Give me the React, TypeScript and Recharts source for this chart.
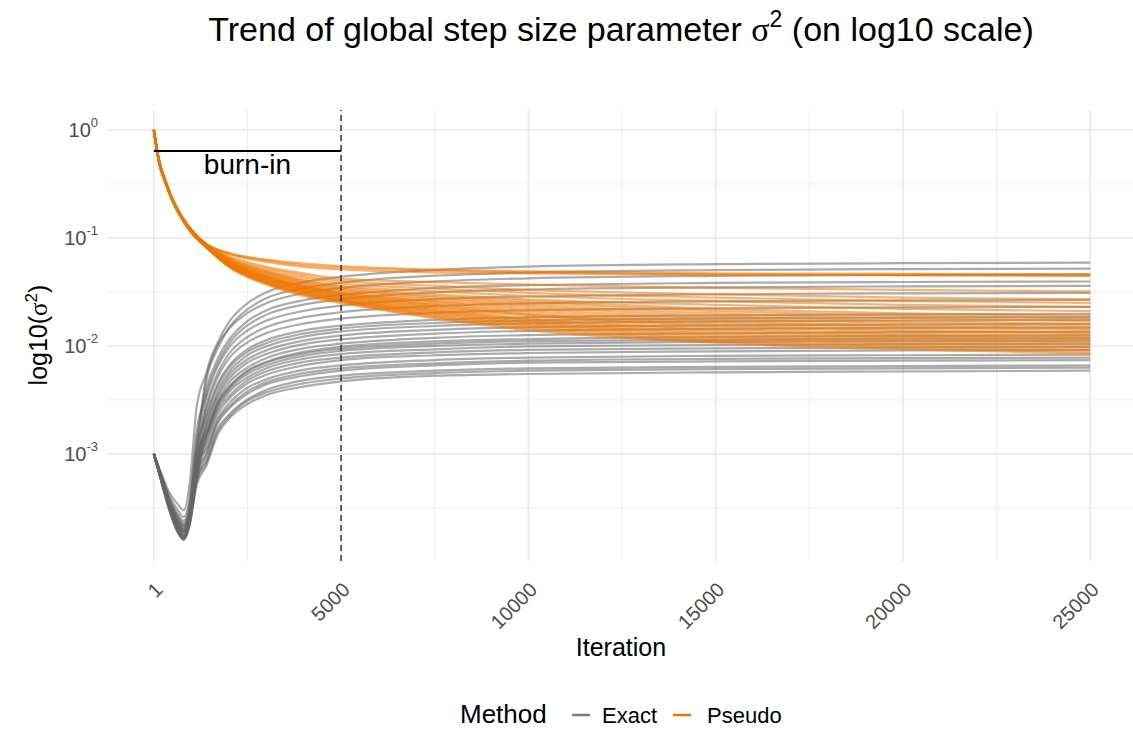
import { LineChart, Line, XAxis, YAxis, CartesianGrid, ReferenceLine } from "recharts";

const W = 1133;
const H = 729;

const ITER_EXACT = [1, 200, 400, 650, 800, 950, 1150, 1400, 1700, 2000, 2500, 3000, 4000, 5000, 7500, 10000, 15000, 20000, 25000];
const ITER_PSEUDO = [1, 150, 300, 500, 750, 1000, 1400, 2000, 3000, 4000, 5000, 7500, 10000, 15000, 20000, 25000];

const EXACT_RUNS = [
  [1e-3, 6.2e-4, 3.9e-4, 2.5e-4, 2.2e-4, 3.0e-4, 1.2e-3, 0.0053, 0.0106, 0.0165, 0.0248, 0.0313, 0.039, 0.0437, 0.0507, 0.0543, 0.0572, 0.0584, 0.059],
  [1e-3, 6.0e-4, 3.6e-4, 2.3e-4, 2.0e-4, 2.7e-4, 1.05e-3, 0.0047, 0.0094, 0.0146, 0.0218, 0.0276, 0.0343, 0.0385, 0.0447, 0.0478, 0.0504, 0.0515, 0.052],
  [1e-3, 6.6e-4, 4.5e-4, 3.4e-4, 3.0e-4, 5.0e-4, 2.8e-3, 0.0055, 0.0101, 0.0143, 0.0202, 0.0248, 0.0308, 0.0345, 0.0396, 0.0423, 0.0446, 0.0455, 0.046],
  [1e-3, 6.3e-4, 4.0e-4, 2.75e-4, 2.4e-4, 3.4e-4, 1.4e-3, 0.004, 0.0075, 0.0113, 0.017, 0.0213, 0.0265, 0.0296, 0.0344, 0.0365, 0.0383, 0.0391, 0.0395],
  [1e-3, 5.9e-4, 3.5e-4, 2.2e-4, 1.9e-4, 2.55e-4, 7.8e-4, 0.0034, 0.0068, 0.0104, 0.0155, 0.0194, 0.0241, 0.027, 0.0313, 0.0333, 0.0349, 0.0356, 0.036],
  [1e-3, 6.4e-4, 4.2e-4, 3.0e-4, 2.6e-4, 3.8e-4, 1.7e-3, 0.0034, 0.0064, 0.0096, 0.0139, 0.0171, 0.0211, 0.0236, 0.0271, 0.0287, 0.0301, 0.0307, 0.031],
  [1e-3, 5.8e-4, 3.4e-4, 2.05e-4, 1.8e-4, 2.4e-4, 7.2e-4, 0.0027, 0.0055, 0.0084, 0.0121, 0.0149, 0.0184, 0.0205, 0.0234, 0.0248, 0.0259, 0.0264, 0.0267],
  [1e-3, 6.1e-4, 3.7e-4, 2.4e-4, 2.1e-4, 2.85e-4, 1.05e-3, 0.0026, 0.0051, 0.0076, 0.0108, 0.0131, 0.0161, 0.0179, 0.0203, 0.0214, 0.0223, 0.0228, 0.023],
  [1e-3, 5.7e-4, 3.3e-4, 1.95e-4, 1.7e-4, 2.3e-4, 6.5e-4, 0.0022, 0.0044, 0.0065, 0.0093, 0.0113, 0.0139, 0.0154, 0.0174, 0.0184, 0.0192, 0.0196, 0.0198],
  [1e-3, 6.2e-4, 3.9e-4, 2.65e-4, 2.3e-4, 3.1e-4, 1.15e-3, 0.0022, 0.0042, 0.0062, 0.0088, 0.0106, 0.013, 0.0145, 0.0163, 0.0172, 0.018, 0.0183, 0.0185],
  [1e-3, 5.9e-4, 3.5e-4, 2.2e-4, 1.9e-4, 2.55e-4, 7.8e-4, 0.0019, 0.0038, 0.0057, 0.0082, 0.0099, 0.0122, 0.0136, 0.0153, 0.0162, 0.0169, 0.0172, 0.0174],
  [1e-3, 5.8e-4, 3.35e-4, 2.0e-4, 1.75e-4, 2.35e-4, 6.8e-4, 0.0018, 0.0035, 0.0053, 0.0075, 0.0091, 0.0112, 0.0125, 0.0141, 0.0149, 0.0155, 0.0158, 0.016],
  [1e-3, 6.0e-4, 3.6e-4, 2.3e-4, 2.0e-4, 2.7e-4, 9e-4, 0.0017, 0.0033, 0.0049, 0.007, 0.0084, 0.0104, 0.0115, 0.013, 0.0138, 0.0144, 0.0147, 0.0148],
  [1e-3, 5.6e-4, 3.2e-4, 1.9e-4, 1.65e-4, 2.2e-4, 6.2e-4, 0.0015, 0.003, 0.0045, 0.0063, 0.0077, 0.0095, 0.0105, 0.0119, 0.0126, 0.0131, 0.0134, 0.0135],
  [1e-3, 6.2e-4, 3.9e-4, 2.5e-4, 2.2e-4, 3.0e-4, 1.05e-3, 0.0015, 0.0028, 0.0041, 0.0059, 0.0071, 0.0088, 0.0098, 0.011, 0.0116, 0.0121, 0.0124, 0.0125],
  [1e-3, 5.8e-4, 3.4e-4, 2.05e-4, 1.8e-4, 2.4e-4, 7.2e-4, 0.0015, 0.003, 0.0041, 0.0058, 0.007, 0.0085, 0.0094, 0.0105, 0.0111, 0.0114, 0.0117, 0.0118],
  [1e-3, 6.0e-4, 3.6e-4, 2.3e-4, 2.0e-4, 2.7e-4, 9e-4, 0.0015, 0.0028, 0.0039, 0.0055, 0.0066, 0.0081, 0.009, 0.01, 0.0105, 0.0109, 0.0111, 0.0112],
  [1e-3, 5.7e-4, 3.3e-4, 1.95e-4, 1.7e-4, 2.3e-4, 6.5e-4, 0.0014, 0.0026, 0.0037, 0.0051, 0.0062, 0.0076, 0.0084, 0.0093, 0.0099, 0.0102, 0.0104, 0.0105],
  [1e-3, 5.9e-4, 3.5e-4, 2.2e-4, 1.9e-4, 2.55e-4, 7.8e-4, 0.0013, 0.0025, 0.0034, 0.0048, 0.0058, 0.0071, 0.0078, 0.0087, 0.0092, 0.0095, 0.0097, 0.0098],
  [1e-3, 5.6e-4, 3.15e-4, 1.85e-4, 1.6e-4, 2.15e-4, 6.0e-4, 0.0012, 0.0023, 0.0032, 0.0045, 0.0054, 0.0066, 0.0074, 0.0082, 0.0086, 0.0089, 0.0091, 0.0092],
  [1e-3, 6.1e-4, 3.7e-4, 2.4e-4, 2.1e-4, 2.85e-4, 8.5e-4, 0.0011, 0.0021, 0.0029, 0.0041, 0.0049, 0.006, 0.0066, 0.0074, 0.0078, 0.0081, 0.0082, 0.0083],
  [1e-3, 5.8e-4, 3.35e-4, 2.0e-4, 1.75e-4, 2.35e-4, 6.5e-4, 0.001, 0.002, 0.0027, 0.0038, 0.0046, 0.0056, 0.0062, 0.0069, 0.0073, 0.0076, 0.0077, 0.0078],
  [1e-3, 5.6e-4, 3.2e-4, 1.9e-4, 1.65e-4, 2.2e-4, 5.8e-4, 9.6e-4, 0.0019, 0.0026, 0.0036, 0.0044, 0.0053, 0.0059, 0.0066, 0.007, 0.0072, 0.0073, 0.0074],
  [1e-3, 5.9e-4, 3.5e-4, 2.2e-4, 1.9e-4, 2.55e-4, 6.0e-4, 8.6e-4, 0.0017, 0.0023, 0.0032, 0.0039, 0.0048, 0.0053, 0.0059, 0.0062, 0.0064, 0.0065, 0.0066],
  [1e-3, 5.7e-4, 3.3e-4, 1.95e-4, 1.7e-4, 2.3e-4, 5.6e-4, 8.2e-4, 0.0016, 0.0022, 0.0031, 0.0037, 0.0045, 0.005, 0.0056, 0.0059, 0.0061, 0.0062, 0.0063],
  [1e-3, 5.6e-4, 3.15e-4, 1.85e-4, 1.6e-4, 2.15e-4, 5.2e-4, 7.7e-4, 0.0015, 0.0021, 0.0029, 0.0035, 0.0042, 0.0047, 0.0053, 0.0055, 0.0057, 0.0058, 0.0059],
];

const PSEUDO_RUNS = [
  [1, 0.51, 0.35, 0.23, 0.158, 0.12, 0.088, 0.073, 0.063, 0.058, 0.055, 0.051, 0.049, 0.047, 0.0465, 0.046],
  [1, 0.51, 0.35, 0.229, 0.157, 0.119, 0.088, 0.072, 0.062, 0.056, 0.053, 0.05, 0.048, 0.046, 0.0455, 0.045],
  [1, 0.5, 0.345, 0.228, 0.157, 0.119, 0.087, 0.071, 0.06, 0.054, 0.051, 0.048, 0.047, 0.0455, 0.045, 0.0445],
  [1, 0.5, 0.345, 0.228, 0.156, 0.118, 0.087, 0.068, 0.054, 0.047, 0.042, 0.039, 0.037, 0.0345, 0.033, 0.032],
  [1, 0.5, 0.343, 0.227, 0.156, 0.118, 0.086, 0.066, 0.052, 0.045, 0.04, 0.036, 0.033, 0.03, 0.028, 0.027],
  [1, 0.5, 0.342, 0.227, 0.156, 0.118, 0.086, 0.065, 0.05, 0.043, 0.038, 0.034, 0.031, 0.028, 0.026, 0.025],
  [1, 0.5, 0.342, 0.226, 0.155, 0.117, 0.086, 0.064, 0.049, 0.041, 0.036, 0.032, 0.029, 0.026, 0.024, 0.023],
  [1, 0.5, 0.341, 0.226, 0.155, 0.117, 0.085, 0.063, 0.048, 0.04, 0.035, 0.03, 0.027, 0.024, 0.022, 0.021],
  [1, 0.5, 0.34, 0.225, 0.155, 0.117, 0.085, 0.062, 0.047, 0.039, 0.034, 0.029, 0.026, 0.022, 0.02, 0.019],
  [1, 0.5, 0.34, 0.225, 0.155, 0.117, 0.085, 0.062, 0.046, 0.038, 0.033, 0.028, 0.025, 0.021, 0.019, 0.018],
  [1, 0.5, 0.34, 0.225, 0.154, 0.116, 0.085, 0.061, 0.045, 0.037, 0.032, 0.027, 0.024, 0.02, 0.018, 0.017],
  [1, 0.5, 0.34, 0.225, 0.154, 0.116, 0.084, 0.06, 0.044, 0.036, 0.031, 0.026, 0.023, 0.019, 0.017, 0.016],
  [1, 0.49, 0.338, 0.224, 0.154, 0.116, 0.084, 0.06, 0.044, 0.036, 0.031, 0.0255, 0.022, 0.018, 0.0163, 0.0152],
  [1, 0.49, 0.338, 0.224, 0.154, 0.116, 0.084, 0.059, 0.043, 0.035, 0.03, 0.0245, 0.021, 0.0172, 0.0155, 0.0145],
  [1, 0.49, 0.337, 0.224, 0.153, 0.115, 0.084, 0.059, 0.043, 0.035, 0.03, 0.024, 0.02, 0.0165, 0.0149, 0.014],
  [1, 0.49, 0.337, 0.223, 0.153, 0.115, 0.084, 0.058, 0.042, 0.034, 0.029, 0.0233, 0.0195, 0.0158, 0.0142, 0.0133],
  [1, 0.49, 0.336, 0.223, 0.153, 0.115, 0.083, 0.058, 0.042, 0.034, 0.029, 0.0228, 0.019, 0.0152, 0.0137, 0.0128],
  [1, 0.49, 0.336, 0.223, 0.153, 0.115, 0.083, 0.057, 0.041, 0.033, 0.028, 0.022, 0.018, 0.0145, 0.013, 0.0122],
  [1, 0.49, 0.335, 0.222, 0.152, 0.114, 0.083, 0.057, 0.041, 0.033, 0.028, 0.0215, 0.0175, 0.014, 0.0125, 0.0117],
  [1, 0.49, 0.335, 0.222, 0.152, 0.114, 0.083, 0.056, 0.04, 0.032, 0.027, 0.021, 0.017, 0.0134, 0.012, 0.0112],
  [1, 0.49, 0.335, 0.222, 0.152, 0.114, 0.083, 0.056, 0.04, 0.032, 0.027, 0.0205, 0.0165, 0.0129, 0.0115, 0.0107],
  [1, 0.49, 0.334, 0.221, 0.152, 0.114, 0.083, 0.056, 0.039, 0.031, 0.0265, 0.02, 0.016, 0.0124, 0.011, 0.0102],
  [1, 0.48, 0.334, 0.221, 0.151, 0.113, 0.082, 0.055, 0.039, 0.031, 0.026, 0.0195, 0.0155, 0.0119, 0.0105, 0.0097],
  [1, 0.48, 0.333, 0.221, 0.151, 0.113, 0.082, 0.055, 0.038, 0.03, 0.026, 0.019, 0.015, 0.0114, 0.01, 0.0092],
  [1, 0.48, 0.333, 0.22, 0.151, 0.113, 0.082, 0.055, 0.038, 0.03, 0.0255, 0.0185, 0.0145, 0.011, 0.0096, 0.0088],
  [1, 0.48, 0.332, 0.22, 0.15, 0.112, 0.082, 0.054, 0.037, 0.029, 0.025, 0.018, 0.014, 0.0107, 0.0093, 0.0085],
];

const X_TICKS = [1, 5000, 10000, 15000, 20000, 25000];
const X_MINOR = [2500, 7500, 12500, 17500, 22500];
const Y_TICKS = [1e-3, 1e-2, 1e-1, 1];
const Y_MINOR = [10 ** -3.5, 10 ** -2.5, 10 ** -1.5, 10 ** -0.5];

const BURN_IN = 5000;
const BURN_IN_Y = 0.64;

const GRAY = "#666666";
const ORANGE = "#EE7600";
const FONT = '"Liberation Sans", Arial, Helvetica, sans-serif';
const SERIF = '"Liberation Serif", "DejaVu Serif", serif';

const toRows = (xs: number[], ys: number[]) => xs.map((x, i) => ({ x, y: ys[i] }));

const XTick = ({ x, y, payload }: any) => (
  <text
    transform={`translate(${x + 10},${y + 22}) rotate(-45)`}
    textAnchor="end"
    fontSize={20}
    fill="#4D4D4D"
    fontFamily={FONT}
  >
    {payload.value}
  </text>
);

const YTick = ({ x, y, payload }: any) => {
  const e = Math.round(Math.log10(payload.value));
  return (
    <text x={x - 1} y={y + 7} textAnchor="end" fontSize={20} fill="#4D4D4D" fontFamily={FONT}>
      <tspan>10</tspan>
      <tspan dy={-10} fontSize={13}>
        {e}
      </tspan>
    </text>
  );
};

export default function App() {
  return (
    <div style={{ position: "absolute", left: 0, top: 0, width: W, height: H, background: "#fff" }}>
      <LineChart width={W} height={H} margin={{ top: 110, right: 0, bottom: 108, left: 47 }}>
        <CartesianGrid stroke="#EBEBEB" strokeWidth={0.9} horizontalValues={Y_MINOR} verticalValues={X_MINOR} />
        <CartesianGrid stroke="#EBEBEB" strokeWidth={1.8} horizontalValues={Y_TICKS} verticalValues={X_TICKS} />
        <XAxis
          type="number"
          dataKey="x"
          domain={[-1249, 26143]}
          allowDataOverflow
          ticks={X_TICKS}
          interval={0}
          axisLine={false}
          tickLine={false}
          height={60}
          tick={<XTick />}
        />
        <YAxis
          type="number"
          dataKey="y"
          scale="log"
          domain={[1.02e-4, 1.53]}
          allowDataOverflow
          ticks={Y_TICKS}
          interval={0}
          axisLine={false}
          tickLine={false}
          width={60}
          tick={<YTick />}
        />
        {EXACT_RUNS.map((run, i) => (
          <Line
            key={`e${i}`}
            data={toRows(ITER_EXACT, run)}
            dataKey="y"
            type="monotone"
            stroke={GRAY}
            strokeOpacity={0.55}
            strokeWidth={2.2}
            dot={false}
            activeDot={false}
            isAnimationActive={false}
          />
        ))}
        {PSEUDO_RUNS.map((run, i) => (
          <Line
            key={`p${i}`}
            data={toRows(ITER_PSEUDO, run)}
            dataKey="y"
            type="monotone"
            stroke={ORANGE}
            strokeOpacity={0.55}
            strokeWidth={2.2}
            dot={false}
            activeDot={false}
            isAnimationActive={false}
          />
        ))}
        <ReferenceLine x={BURN_IN} stroke="#333333" strokeWidth={1.5} strokeDasharray="6 4" />
        <ReferenceLine
          segment={[
            { x: 1, y: BURN_IN_Y },
            { x: BURN_IN, y: BURN_IN_Y },
          ]}
          stroke="#000"
          strokeWidth={2}
          label={{ value: "burn-in", position: "bottom", offset: 3, fontSize: 28, fill: "#000", fontFamily: FONT }}
        />
      </LineChart>
      <svg width={W} height={H} style={{ position: "absolute", left: 0, top: 0, pointerEvents: "none" }} fontFamily={FONT}>
        <text x={621} y={41} textAnchor="middle" fontSize={34} fill="#000">
          Trend of global step size parameter <tspan fontFamily={SERIF}>σ</tspan>
          <tspan dy={-14} fontSize={23}>2</tspan>
          <tspan dy={14}> (on log10 scale)</tspan>
        </text>
        <text x={621} y={656} textAnchor="middle" fontSize={25} fill="#000">
          Iteration
        </text>
        <text transform="translate(47,335) rotate(-90)" textAnchor="middle" fontSize={25} fill="#000">
          log10(<tspan fontFamily={SERIF}>σ</tspan>
          <tspan dy={-10} fontSize={17}>2</tspan>
          <tspan dy={10}>)</tspan>
        </text>
        <text x={460} y={723} fontSize={26} fill="#000">
          Method
        </text>
        <line x1={572} x2={590} y1={715} y2={715} stroke={GRAY} strokeOpacity={0.85} strokeWidth={2.5} />
        <text x={602} y={723} fontSize={22} fill="#000">
          Exact
        </text>
        <line x1={673} x2={691} y1={715} y2={715} stroke={ORANGE} strokeWidth={2.5} />
        <text x={707} y={723} fontSize={22} fill="#000">
          Pseudo
        </text>
      </svg>
    </div>
  );
}
